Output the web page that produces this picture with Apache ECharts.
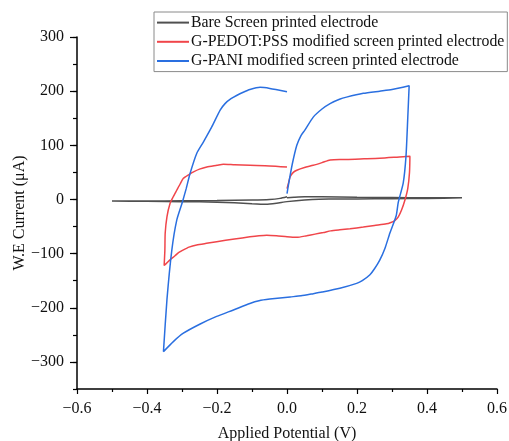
<!DOCTYPE html>
<html>
<head>
<meta charset="utf-8">
<script src="https://cdn.jsdelivr.net/npm/echarts@6/dist/echarts.min.js"></script>
<style>
html,body{margin:0;padding:0;background:#fff;}
#chart{width:509px;height:441px;}
</style>
</head>
<body>
<div id="chart"></div>
<script>
const seriesNames = [
  'Bare Screen printed electrode',
  'G-PEDOT:PSS modified screen printed electrode',
  'G-PANI modified screen printed electrode'
];
const xTicks = [-0.6, -0.4, -0.2, 0.0, 0.2, 0.4, 0.6];
const yTicks = [-300, -200, -100, 0, 100, 200, 300];

const bareV = [0.000, 0.020, 0.050, 0.100, 0.200, 0.300, 0.400, 0.500,
  0.400, 0.300, 0.200, 0.120, 0.050, 0.000, -0.030, -0.060, -0.100, -0.150, -0.200, -0.300, -0.400, -0.500,
  -0.400, -0.300, -0.200, -0.100, -0.050, -0.020, 0.000];
const bareI = [3, 4, 5, 5, 4, 3.5, 3, 3,
  2, 1.5, 1, 1, -1, -4, -7, -9, -8, -6, -5, -4, -3.5, -3,
  -3, -2.5, -2, -1, 0, 2, 5];

const pedotV = [0.000, 0.005, 0.009, 0.018, 0.028, 0.050, 0.075, 0.100, 0.123, 0.150, 0.170, 0.220, 0.265, 0.310, 0.351, 0.353,
  0.350, 0.345, 0.337, 0.327, 0.318, 0.308, 0.295, 0.284, 0.250, 0.218, 0.180, 0.151, 0.125, 0.104, 0.080, 0.056, 0.028, 0.000,
  -0.030, -0.058, -0.080, -0.106, -0.150, -0.201, -0.230, -0.258, -0.280, -0.296, -0.310, -0.320, -0.335, -0.351,
  -0.349, -0.348, -0.343, -0.334, -0.325, -0.315, -0.305, -0.296, -0.280, -0.267, -0.250, -0.229, -0.200, -0.182, -0.150, -0.106, -0.050, 0.000];
const pedotI = [20, 32, 42, 50, 54, 59, 63, 68, 73, 74, 74, 75, 76, 78, 80, 80,
  50, 20, -1, -20, -32, -39, -43, -45, -48, -51, -54, -56, -58, -61, -64, -67, -70, -69,
  -67, -66, -67, -69, -73, -78, -81, -84, -88, -93, -98, -104, -112, -122,
  -95, -62, -32, -7, 5, 17, 29, 39, 46, 51, 56, 60, 63, 65, 64, 63, 62, 60];

const paniV = [0.000, 0.005, 0.015, 0.028, 0.040, 0.051, 0.075, 0.100, 0.123, 0.150, 0.170, 0.218, 0.265, 0.300, 0.349,
  0.345, 0.340, 0.332, 0.318, 0.312, 0.294, 0.280, 0.265, 0.250, 0.237, 0.215, 0.199, 0.151, 0.100, 0.075, 0.040, 0.009,
  -0.049, -0.080, -0.106, -0.153, -0.201, -0.248, -0.296, -0.324, -0.353,
  -0.343, -0.329, -0.315, -0.299, -0.288, -0.277, -0.258, -0.239, -0.215, -0.191, -0.177, -0.160, -0.144, -0.125, -0.106, -0.077, -0.049, 0.000];
const paniI = [11, 30, 65, 100, 118, 128, 152, 167, 177, 185, 189, 196, 200, 203, 210,
  150, 80, 30, -5, -30, -62, -90, -112, -128, -139, -150, -155, -164, -171, -174, -178, -180,
  -184, -187, -192, -204, -216, -230, -247, -262, -281,
  -185, -93, -38, -5, 20, 48, 85, 106, 134, 165, 177, 186, 192, 198, 203, 207, 205, 199];

const colors = ['#505050', '#f0454a', '#2a6fe0'];
const fontFam = 'Liberation Serif';

function zip(a, b) { return a.map((v, i) => [v, b[i]]); }
const dataSets = [zip(bareV, bareI), zip(pedotV, pedotI), zip(paniV, paniI)];

function fmtMinus(s) { return String(s).replace('-', '\u2212'); }

const yMin = -350, yMax = 300;

const chart = echarts.init(document.getElementById('chart'), null, {renderer: 'canvas'});
const option = {
  backgroundColor: '#ffffff',
  animation: false,
  grid: {left: 77, right: 12, top: 37, bottom: 52, containLabel: false, outerBoundsMode: 'none'},
  legend: {
    orient: 'vertical',
    left: 154,
    top: 12,
    padding: [1, 3, 1, 3],
    itemGap: 0,
    itemWidth: 32,
    itemHeight: 2,
    icon: 'rect',
    borderColor: '#8a8a8a',
    borderWidth: 1,
    textStyle: {fontFamily: fontFam, fontSize: 15.8, color: '#111', lineHeight: 19.2, padding: [0, 0, 0, -3]},
    data: seriesNames.map((n, i) => ({name: n, itemStyle: {color: colors[i]}}))
  },
  xAxis: {
    type: 'value',
    min: xTicks[0],
    max: xTicks[xTicks.length - 1],
    interval: 0.2,
    name: 'Applied Potential (V)',
    nameLocation: 'middle',
    nameGap: 37,
    nameMoveOverlap: false,
    nameTextStyle: {fontFamily: fontFam, fontSize: 16, color: '#111'},
    axisLine: {onZero: false, lineStyle: {color: '#000', width: 1.5}},
    axisTick: {show: true, inside: false, length: 5, lineStyle: {color: '#000', width: 1.2}},
    minorTick: {show: true, splitNumber: 2, length: 3, lineStyle: {color: '#000', width: 1.2}},
    splitLine: {show: false},
    axisLabel: {fontFamily: fontFam, fontSize: 16, color: '#111', margin: 12,
      formatter: v => fmtMinus(v.toFixed(1))}
  },
  yAxis: [{
    type: 'value',
    min: yMin,
    max: yMax,
    interval: 50,
    name: 'W.E Current (\u03bcA)',
    nameLocation: 'middle',
    nameGap: 49,
    nameMoveOverlap: false,
    nameTextStyle: {fontFamily: fontFam, fontSize: 16, color: '#111'},
    axisLine: {show: true, onZero: false, lineStyle: {color: '#000', width: 1.5}},
    axisTick: {show: true, inside: false, length: 7, customValues: yTicks, lineStyle: {color: '#000', width: 1.2}},
    splitLine: {show: false},
    axisLabel: {fontFamily: fontFam, fontSize: 16, color: '#111', margin: 13, customValues: yTicks,
      formatter: v => fmtMinus(v)}
  }, {
    type: 'value',
    position: 'left',
    offset: 0,
    min: yMin,
    max: yMax,
    interval: 50,
    axisLine: {show: false, onZero: false},
    axisTick: {show: true, inside: false, length: 4, lineStyle: {color: '#000', width: 1.2}},
    axisLabel: {show: false},
    splitLine: {show: false}
  }],
  series: seriesNames.map((n, i) => ({
    name: n,
    type: 'line',
    data: dataSets[i],
    showSymbol: false,
    symbol: 'none',
    smooth: 0.2,
    lineStyle: {color: colors[i], width: 1.5},
    itemStyle: {color: colors[i]},
    z: 2 + i
  }))
};
chart.setOption(option);
</script>
</body>
</html>
